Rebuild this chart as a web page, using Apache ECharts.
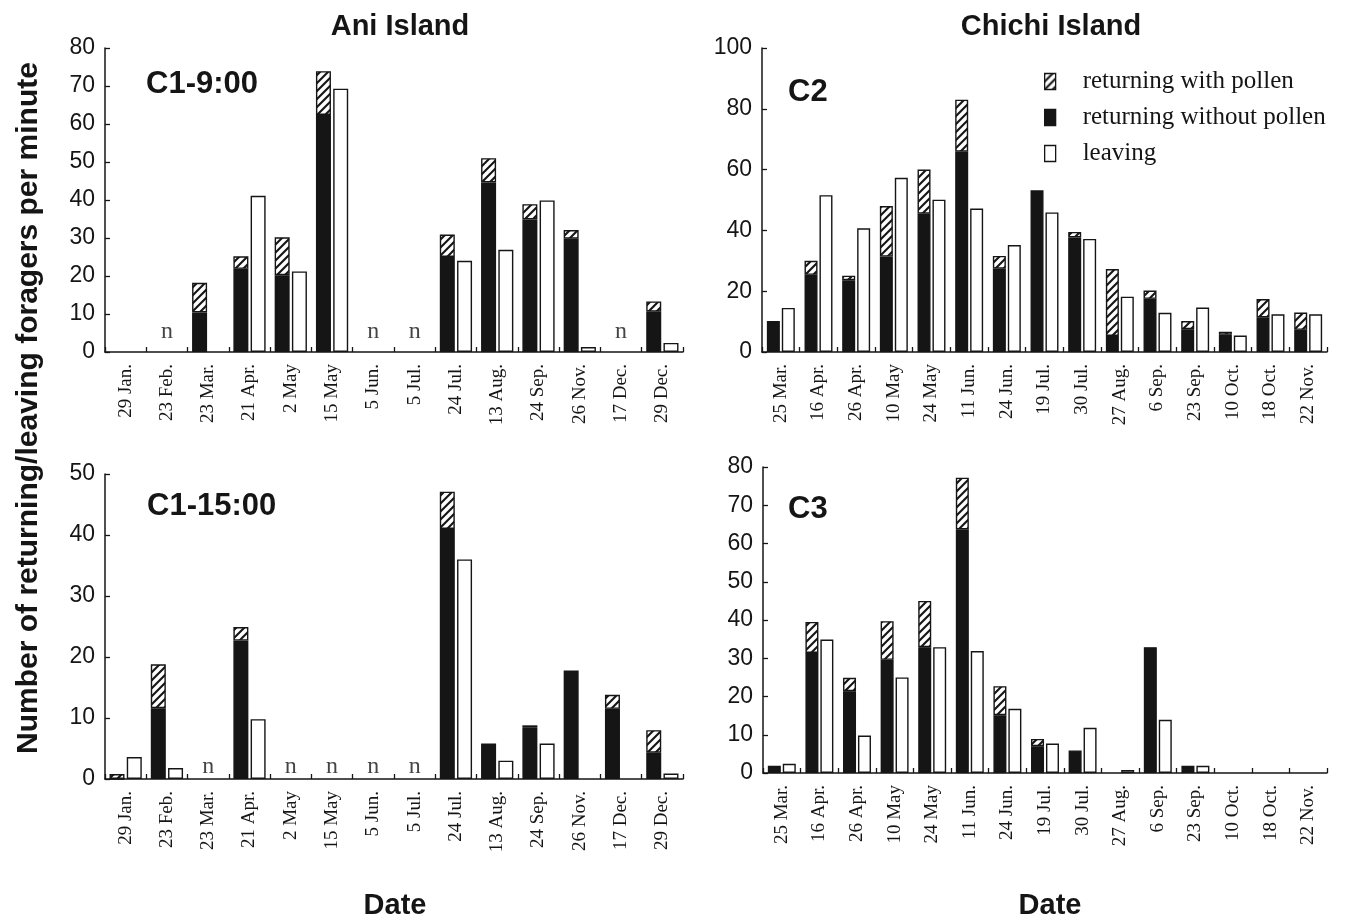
<!DOCTYPE html>
<html>
<head>
<meta charset="utf-8">
<script src="https://cdn.jsdelivr.net/npm/echarts@6/dist/echarts.min.js"></script>
<style>
html,body{margin:0;padding:0;background:#fff;}
#chart{width:1348px;height:917px;}
</style>
</head>
<body>
<div id="chart"></div>
<script>
// ---------- DATA ----------
const aniDates = ['29 Jan.','23 Feb.','23 Mar.','21 Apr.','2 May','15 May','5 Jun.','5 Jul.','24 Jul.','13 Aug.','24 Sep.','26 Nov.','17 Dec.','29 Dec.'];
const chichiDates = ['25 Mar.','16 Apr.','26 Apr.','10 May','24 May','11 Jun.','24 Jun.','19 Jul.','30 Jul.','27 Aug.','6 Sep.','23 Sep.','10 Oct.','18 Oct.','22 Nov.'];

// C1-9:00 (Ani Island)
const c1am_without = [null, null, 10.4, 21.9, 20.2, 62.4, null, null, 25.0, 44.6, 34.9, 29.8, null, 10.6];
const c1am_with    = [null, null,  7.8,  3.3, 10.0, 11.5, null, null,  5.9,  6.4,  4.0,  2.3, null,  2.7];
const c1am_leaving = [null, null, null, 41.1, 21.2, 69.3, null, null, 24.0, 26.9, 39.9,  1.3, null,  2.4];
const c1am_noData  = ['23 Feb.','5 Jun.','5 Jul.','17 Dec.'];

// C1-15:00 (Ani Island)
const c1pm_without = [0,   11.6, null, 22.7, null, null, null, null, 41.0, 5.8, 8.5, 17.8, 11.5, 4.3];
const c1pm_with    = [0.8,  7.2, null,  2.2, null, null, null, null,  6.1, null, 0.3, null,  2.3, 3.7];
const c1pm_leaving = [3.6,  1.8, null,  9.8, null, null, null, null, 36.0, 3.0, 5.8, null, null, 0.9];
const c1pm_noData  = ['23 Mar.','2 May','15 May','5 Jun.','5 Jul.'];

// C2 (Chichi Island)
const c2_without = [10.2, 25.4, 23.6, 31.4, 45.5, 65.9, 27.4, 53.2, 37.7,  5.3, 17.5,  7.5, 5.7, 11.4,  7.3];
const c2_with    = [null,  4.6,  1.5, 16.6, 14.5, 17.1,  4.2, null,  1.8, 22.0,  2.7,  2.7, 1.0,  6.0,  5.7];
const c2_leaving = [14.5, 51.6, 40.7, 57.3, 50.1, 47.2, 35.2, 45.9, 37.2, 18.2, 12.9, 14.6, 5.4, 12.4, 12.4];

// C3 (Chichi Island)
const c3_without = [1.9, 31.4, 21.4, 29.6, 32.9, 63.7, 15.1, 7.0, 5.9, null, 32.9, 1.9, null, null, null];
const c3_with    = [null, 8.1,  3.5, 10.1, 12.1, 13.5,  7.6, 1.9, null, null, null, null, null, null, null];
const c3_leaving = [2.4, 34.9,  9.8, 25.0, 32.9, 31.9, 16.8, 7.7, 11.8, 0.8, 13.9, 1.9, null, null, null];

const yTicks = {c1am:[0,80,10], c2:[0,100,20], c1pm:[0,50,10], c3:[0,80,10]};

// ---------- STYLE / BUILD ----------
function hatchPattern(){
  const s = 8;
  const c = document.createElement('canvas');
  c.width = s; c.height = s;
  const g = c.getContext('2d');
  g.fillStyle = '#fff'; g.fillRect(0,0,s,s);
  g.strokeStyle = '#151515'; g.lineWidth = 2.1; g.lineCap='square';
  const seg = (x1,y1,x2,y2)=>{g.beginPath();g.moveTo(x1,y1);g.lineTo(x2,y2);g.stroke();};
  seg(0,s,s,0); seg(-1,1,1,-1); seg(s-1,s+1,s+1,s-1);
  return {image: c, repeat: 'repeat'};
}
const HATCH = hatchPattern();
const SANS = 'Liberation Sans, Arial, Helvetica, sans-serif';
const SERIF = 'Liberation Serif, Times New Roman, serif';
const INK = '#151515';

const panels = [
  {cats: aniDates,   wo: c1am_without, w: c1am_with, lv: c1am_leaving, nd: c1am_noData, nLevel: 5.3, ticks: yTicks.c1am,
   grid:{left:105, top:48, width:578, height:304}, bw:15, label:'C1-9:00', lx:141, ly:64},
  {cats: chichiDates, wo: c2_without, w: c2_with, lv: c2_leaving, nd: [], nLevel: 0, ticks: yTicks.c2,
   grid:{left:762, top:48, width:565, height:304}, bw:13, label:'C2', lx:783, ly:72},
  {cats: aniDates,   wo: c1pm_without, w: c1pm_with, lv: c1pm_leaving, nd: c1pm_noData, nLevel: 2.0, ticks: yTicks.c1pm,
   grid:{left:105, top:474, width:578, height:305}, bw:15, label:'C1-15:00', lx:142, ly:486},
  {cats: chichiDates, wo: c3_without, w: c3_with, lv: c3_leaving, nd: [], nLevel: 0, ticks: yTicks.c3,
   grid:{left:763, top:467, width:564, height:306}, bw:13, label:'C3', lx:783, ly:489}
];

const grids=[], xAxes=[], yAxes=[], series=[];
const titles = [
  {text:'Ani Island', left:395, top:7, textAlign:'center', textStyle:{fontFamily:SANS, fontWeight:'bold', fontSize:29, color:INK}},
  {text:'Chichi Island', left:1046, top:7, textAlign:'center', textStyle:{fontFamily:SANS, fontWeight:'bold', fontSize:29, color:INK}},
  {text:'Date', left:390, top:886, textAlign:'center', textStyle:{fontFamily:SANS, fontWeight:'bold', fontSize:29, color:INK}},
  {text:'Date', left:1045, top:886, textAlign:'center', textStyle:{fontFamily:SANS, fontWeight:'bold', fontSize:29, color:INK}}
];
const toData = arr => arr.map(v => (v === null ? '-' : v));

panels.forEach((p,i)=>{
  grids.push(Object.assign({containLabel:false}, p.grid));
  xAxes.push({
    type:'category', gridIndex:i, data:p.cats,
    axisLine:{show:true, lineStyle:{color:INK, width:1.5}},
    axisTick:{show:true, inside:true, length:5, interval:0, lineStyle:{color:INK, width:1.3}},
    axisLabel:{interval:0, rotate:90, margin:12, fontFamily:SERIF, fontSize:19, color:INK},
    splitLine:{show:false}
  });
  yAxes.push({
    type:'value', gridIndex:i, min:p.ticks[0], max:p.ticks[1], interval:p.ticks[2],
    axisLine:{show:true, lineStyle:{color:INK, width:1.5}},
    axisTick:{show:true, inside:true, length:5, lineStyle:{color:INK, width:1.3}},
    axisLabel:{margin:10, fontFamily:SANS, fontSize:23, color:INK},
    splitLine:{show:false}
  });
  const border = {borderColor:INK, borderWidth:1.4};
  series.push({
    type:'bar', name:'returning without pollen', xAxisIndex:i, yAxisIndex:i, stack:'ret'+i,
    data: toData(p.wo), barWidth:p.bw, barGap:'15%',
    itemStyle: Object.assign({color:INK}, border)
  });
  series.push({
    type:'bar', name:'returning with pollen', xAxisIndex:i, yAxisIndex:i, stack:'ret'+i,
    data: toData(p.w), barWidth:p.bw, barGap:'15%',
    itemStyle: Object.assign({color:HATCH}, border)
  });
  series.push({
    type:'bar', name:'leaving', xAxisIndex:i, yAxisIndex:i,
    data: toData(p.lv), barWidth:p.bw, barGap:'15%',
    itemStyle: Object.assign({color:'#fff'}, border)
  });
  if (p.nd.length){
    series.push({
      type:'scatter', name:'no data', xAxisIndex:i, yAxisIndex:i,
      data: p.nd.map(c=>[c, p.nLevel]), symbolSize:1,
      itemStyle:{color:'rgba(0,0,0,0)'},
      label:{show:true, position:'inside', formatter:'n', fontFamily:SERIF, fontSize:24, color:INK}
    });
  }
  titles.push({text:p.label, left:p.lx, top:p.ly, textStyle:{fontFamily:SANS, fontWeight:'bold', fontSize:31, color:INK}});
});

const option = {
  animation:false,
  backgroundColor:'#fff',
  title: titles,
  legend:{
    data:['returning with pollen','returning without pollen','leaving'],
    orient:'vertical', left:1039, top:64,
    icon:'rect', itemWidth:11, itemHeight:16, itemGap:11,
    itemStyle:{borderColor:INK, borderWidth:1.3},
    textStyle:{fontFamily:SERIF, fontSize:25, color:INK, padding:[0,0,0,22]},
    selectedMode:false
  },
  grid: grids, xAxis: xAxes, yAxis: yAxes, series: series,
  graphic:[{
    type:'text', x:29, y:408, rotation:Math.PI/2,
    style:{text:'Number of returning/leaving foragers per minute', font:'bold 30px '+SANS, fill:INK, align:'center', verticalAlign:'middle'}
  }]
};
const chart = echarts.init(document.getElementById('chart'), null, {renderer:'canvas'});
chart.setOption(option);
</script>
</body>
</html>
